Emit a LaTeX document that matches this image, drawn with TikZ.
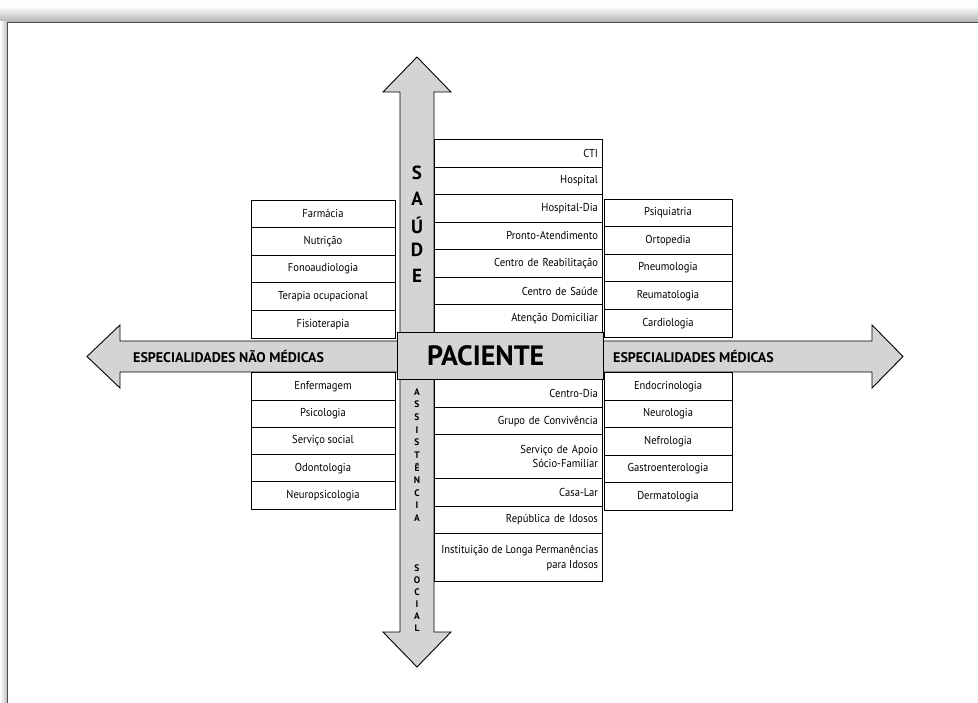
\documentclass[tikz,border=0pt]{standalone}
\usepackage{fontspec}
\setmainfont{PT Sans}
\newfontfamily\boxfont[FakeStretch=0.92]{PT Sans}
\definecolor{arrowgray}{RGB}{211,212,214}
\begin{document}
\begin{tikzpicture}[x=1pt,y=-1pt,
  box/.style={draw,line width=0.9pt,fill=white,inner sep=0pt,minimum height=27.6pt,
    font=\boxfont\fontsize{11.5}{13.5}\selectfont},
  lbox/.style={box,minimum width=144pt},
  rbox/.style={box,minimum width=128pt},
  mbox/.style={box,anchor=north west,text width=159pt,inner xsep=4.5pt,align=right},
  arrowshape/.style={draw,line width=0.9pt,fill=arrowgray,line join=miter},
  bigletter/.style={font=\fontsize{19}{19}\bfseries\selectfont,inner sep=0pt},
  smallletter/.style={font=\fontsize{9.5}{9.5}\bfseries\selectfont,inner sep=0pt},
  arrowlabel/.style={font=\fontsize{14}{14}\bfseries\selectfont,inner sep=0pt,anchor=west}]
\useasboundingbox (0,0) rectangle (978,703);
% page frame with shadow
\shade[top color=white,bottom color=black!30] (0,6) rectangle (978,22);
\shade[left color=white,right color=black!25] (0,22) rectangle (7,703);
\fill[white] (7,22) rectangle (978,703);
\draw[line width=0.8pt,black!70] (7,703) -- (7,22) -- (978,22);
% arrows
\draw[arrowshape] (400,92) -- (383,92) -- (417,57) -- (451,92) -- (434,92) -- (434,632)
  -- (451,632) -- (417,667) -- (383,632) -- (400,632) -- cycle;
\draw[arrowshape] (120,341) -- (120,325) -- (87,356.5) -- (120,388) -- (120,372) -- (872,372)
  -- (872,388) -- (903,356.5) -- (872,325) -- (872,341) -- cycle;
% central box
\node[draw,line width=0.9pt,fill=arrowgray,anchor=north west,minimum width=206pt,minimum height=47pt,inner sep=0pt] (pac) at (397,332) {};
\node[font=\fontsize{28}{28}\bfseries\selectfont,inner sep=0pt,anchor=west] (pactext) at (427,356) {PACIENTE};
% arrow labels
\node[arrowlabel] (esnm) at (133,357) {ESPECIALIDADES NÃO MÉDICAS};
\node[arrowlabel] (esm) at (613,357) {ESPECIALIDADES MÉDICAS};
% SAUDE
\foreach \l/\yy [count=\i] in {S/173,A/199,Ú/225,D/250,E/276}
  \node[bigletter] (s\i) at (417,\yy) {\l};
% ASSISTENCIA SOCIAL
\foreach \l [count=\i from 0] in {A,S,S,I,S,T,Ê,N,C,I,A}
  \node[smallletter] (as\i) at (417,{392+12.6*\i}) {\l};
\foreach \l [count=\i from 0] in {S,O,C,I,A,L}
  \node[smallletter] (so\i) at (417,{568+12*\i}) {\l};
% left boxes
\foreach \t [count=\i from 0] in {Farmácia,Nutrição,Fonoaudiologia,Terapia ocupacional,Fisioterapia}
  \node[lbox] (lu\i) at (323,{200+27.6*(\i+0.5)}) {\t};
\foreach \t [count=\i from 0] in {Enfermagem,Psicologia,Serviço social,Odontologia,Neuropsicologia}
  \node[lbox] (ll\i) at (323,{373+27.2*(\i+0.5)}) {\t};
% right boxes
\foreach \t [count=\i from 0] in {Psiquiatria,Ortopedia,Pneumologia,Reumatologia,Cardiologia}
  \node[rbox] (ru\i) at (668,{199+27.6*(\i+0.5)}) {\t};
\foreach \t [count=\i from 0] in {Endocrinologia,Neurologia,Nefrologia,Gastroenterologia,Dermatologia}
  \node[rbox] (rl\i) at (668,{373+27.4*(\i+0.5)}) {\t};
% middle upper boxes
\foreach \t [count=\i from 0] in {CTI,Hospital,Hospital-Dia,Pronto-Atendimento,Centro de Reabilitação,Centro de Saúde,Atenção Domiciliar}
  \node[mbox] (mu\i) at (434,{139+27.57*\i}) {\t};
% middle lower boxes
\node[mbox,minimum height=28pt] (ml0) at (434,379) {Centro-Dia};
\node[mbox,minimum height=27pt] (ml1) at (434,407) {Grupo de Convivência};
\node[mbox,minimum height=44pt] (ml2) at (434,434) {Serviço de Apoio\hspace*{3pt}\\Sócio-Familiar};
\node[mbox,minimum height=28pt] (ml3) at (434,478) {Casa-Lar};
\node[mbox,minimum height=27pt] (ml4) at (434,506) {República de Idosos};
\node[box,anchor=north west,minimum width=168pt,minimum height=48pt] (ml5) at (434,533) {};
\node[font=\boxfont\fontsize{11.5}{15}\selectfont,align=right,inner sep=0pt,anchor=east] (ml5text) at ([xshift=-4.5pt]ml5.east) {Instituição de Longa Permanências\\para Idosos};
\end{tikzpicture}
\end{document}
